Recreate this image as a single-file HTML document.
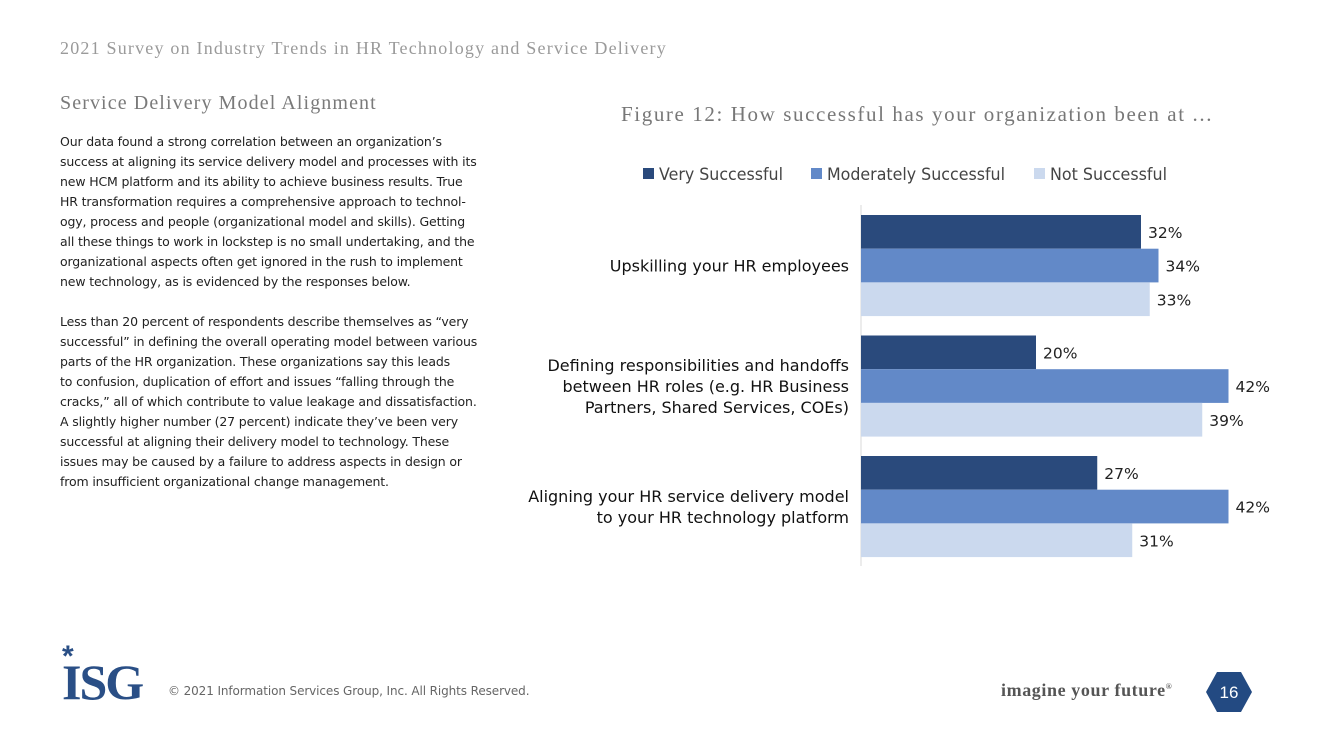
<!DOCTYPE html>
<html><head><meta charset="utf-8"><style>
body{margin:0;width:1320px;height:743px;background:#fff;position:relative;overflow:hidden;font-family:"Liberation Sans",sans-serif}
.abs{position:absolute}
.serif{font-family:"Liberation Serif",serif;color:#8a8a8a}
p{margin:0}
</style></head><body>
<div class="abs serif" style="left:60px;top:38px;font-size:18px;letter-spacing:1.2px;color:#9a9a9a">2021 Survey on Industry Trends in HR Technology and Service Delivery</div>
<div class="abs serif" style="left:60px;top:92px;font-size:20px;letter-spacing:1.1px;color:#7a7a7a">Service Delivery Model Alignment</div>
<div class="abs" style="left:60px;top:132px;width:440px;font-family:'DejaVu Sans',sans-serif;font-size:12.5px;letter-spacing:-0.15px;line-height:20px;color:#222;white-space:nowrap">
<p>Our data found a strong correlation between an organization’s<br>success at aligning its service delivery model and processes with its<br>new HCM platform and its ability to achieve business results. True<br>HR transformation requires a comprehensive approach to technol-<br>ogy, process and people (organizational model and skills). Getting<br>all these things to work in lockstep is no small undertaking, and the<br>organizational aspects often get ignored in the rush to implement<br>new technology, as is evidenced by the responses below.</p>
<p style="margin-top:20px">Less than 20 percent of respondents describe themselves as “very<br>successful” in defining the overall operating model between various<br>parts of the HR organization. These organizations say this leads<br>to confusion, duplication of effort and issues “falling through the<br>cracks,” all of which contribute to value leakage and dissatisfaction.<br>A slightly higher number (27 percent) indicate they’ve been very<br>successful at aligning their delivery model to technology. These<br>issues may be caused by a failure to address aspects in design or<br>from insufficient organizational change management.</p>
</div>
<div class="abs serif" style="left:621px;top:102px;font-size:21px;letter-spacing:1.6px;color:#777">Figure 12: How successful has your organization been at ...</div>
<svg class="abs" style="left:0;top:0" width="1320" height="743" id="chart"></svg>
<div class="abs" style="left:62px;top:650px;font-family:'Liberation Serif',serif;font-weight:bold;font-size:50px;color:#2a4f86;line-height:64px;letter-spacing:-2px">ISG</div>
<div class="abs" style="left:62px;top:640px;font-size:30px;font-weight:bold;color:#2a4f86">*</div>
<div class="abs" style="left:168px;top:684px;font-family:'DejaVu Sans',sans-serif;font-size:12px;letter-spacing:-0.1px;color:#666">© 2021 Information Services Group, Inc. All Rights Reserved.</div>
<div class="abs" style="left:1001px;top:680px;font-family:'Liberation Serif',serif;font-weight:bold;font-size:18px;letter-spacing:0.6px;color:#555">imagine your future<sup style="font-size:8px">®</sup></div>
<svg class="abs" style="left:1206px;top:672px" width="46" height="40"><polygon points="11,0 35,0 46,20 35,40 11,40 0,20" fill="#234a82"/><text x="23" y="26" text-anchor="middle" fill="#fff" font-size="17" font-family="Liberation Sans">16</text></svg>
<script>
const categories=[["Upskilling your HR employees"],["Defining responsibilities and handoffs","between HR roles (e.g. HR Business","Partners, Shared Services, COEs)"],["Aligning your HR service delivery model","to your HR technology platform"]];
const seriesNames=["Very Successful","Moderately Successful","Not Successful"];
const verySuccessful=[32,20,27];
const moderatelySuccessful=[34,42,42];
const notSuccessful=[33,39,31];
const series=[verySuccessful,moderatelySuccessful,notSuccessful];
const colors=["#2a4a7c","#6289c8","#cbd9ee"];
const svg=document.getElementById('chart');const NS='http://www.w3.org/2000/svg';
const x0=861,pxPer=8.75,groupTop=215,groupPitch=120.5,barH=33.7;
const xs=v=>x0+v*pxPer;
function mk(t,a,p){const e=document.createElementNS(NS,t);for(const k in a)e.setAttribute(k,a[k]);(p||svg).appendChild(e);return e;}
const ax=mk('line',{x1:x0,x2:x0,y1:205,y2:566,stroke:'#d9d9d9','stroke-width':1});


const lx=[643,811,1034];
seriesNames.forEach((n,i)=>{
 const g=mk('g',{});
 
 
 mk('rect',{x:lx[i],y:168,width:11,height:11,fill:colors[i]},g);
 const t=mk('text',{x:lx[i]+16,y:180,'font-size':16.5,fill:'#444','font-family':'DejaVu Sans, sans-serif','textLength':[124,178,117][i],'lengthAdjust':'spacingAndGlyphs'},g);t.textContent=n;
});
categories.forEach((c,gi)=>{
 const top=groupTop+gi*groupPitch;
 series.forEach((s,si)=>{
  const y=top+si*barH;
  const r=mk('rect',{x:x0,y:y,width:xs(s[gi])-x0,height:barH,fill:colors[si]});
  
  
  const t=mk('text',{x:xs(s[gi])+7,y:y+barH/2+6,'font-size':15.5,fill:'#222','font-family':'DejaVu Sans, sans-serif'});
  
  
  t.textContent=s[gi]+'%';
 });
 const mid=top+barH*1.5;
 c.forEach((line,li)=>{
  const t=mk('text',{x:849,y:mid+6+(li-(c.length-1)/2)*21,'text-anchor':'end','font-size':16,fill:'#111','font-family':'DejaVu Sans, sans-serif'});
  
  
  t.textContent=line;
 });
});
</script>
</body></html>
